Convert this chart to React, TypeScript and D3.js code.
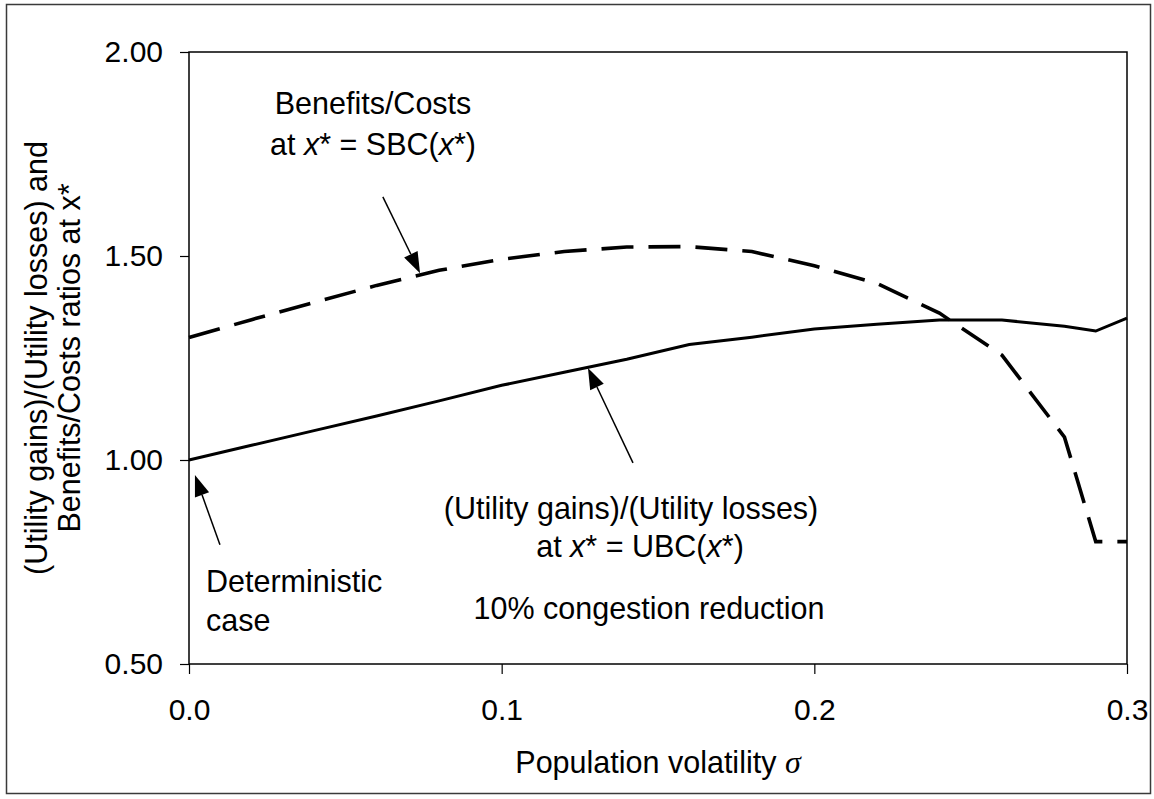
import { useRef, useEffect } from 'react';
import * as d3 from 'd3';

// population volatility sigma
const sigma = [0, 0.02, 0.04, 0.06, 0.08, 0.1, 0.12, 0.14, 0.16, 0.18, 0.2, 0.22, 0.24, 0.26, 0.28, 0.29, 0.3];
// (Utility gains)/(Utility losses) at x* = UBC(x*)
const utilityRatio = [1.0, 1.036, 1.072, 1.108, 1.145, 1.183, 1.215, 1.247, 1.283, 1.301, 1.321, 1.333, 1.343, 1.343, 1.328, 1.316, 1.348];
// Benefits/Costs at x* = SBC(x*)
const benefitCost = [1.3, 1.344, 1.386, 1.428, 1.465, 1.492, 1.511, 1.522, 1.523, 1.511, 1.476, 1.433, 1.36, 1.257, 1.056, 0.8, 0.8];

const xTicks = [0, 0.1, 0.2, 0.3];
const yTicks = [0.5, 1.0, 1.5, 2.0];

// annotation arrows, [tail, tip] in data units
const arrows = [
  [[0.062, 1.645], [0.0739, 1.458]],
  [[0.142, 0.993], [0.1276, 1.2255]],
  [[0.0099, 0.792], [0.0019, 0.963]],
];

const FONT = '"Liberation Sans", Arial, sans-serif';

function App() {
  const svgRef = useRef<SVGSVGElement>(null);

  useEffect(() => {
    const width = 1154;
    const height = 799;
    const m = { left: 189, right: 1127, top: 52, bottom: 664 };

    const svg = d3.select(svgRef.current).attr('width', width).attr('height', height);
    svg.selectAll('*').remove();

    const x = d3.scaleLinear().domain([0, 0.3]).range([m.left, m.right]);
    const y = d3.scaleLinear().domain([0.5, 2.0]).range([m.bottom, m.top]);

    //Outer frame
    svg.append('rect')
      .attr('x', 6.5).attr('y', 4.5)
      .attr('width', 1144).attr('height', 789)
      .attr('fill', 'white')
      .attr('stroke', '#3a3a3a')
      .attr('stroke-width', 1.5);

    //Plot area box
    svg.append('rect')
      .attr('x', m.left).attr('y', m.top)
      .attr('width', m.right - m.left).attr('height', m.bottom - m.top)
      .attr('fill', 'none')
      .attr('stroke', '#000')
      .attr('stroke-width', 1.5);

    //Axes
    const yAxis = svg.append('g')
      .attr('transform', `translate(${m.left},0)`)
      .call(d3.axisLeft(y).tickValues(yTicks).tickFormat(d3.format('.2f')).tickSize(9).tickPadding(17).tickSizeOuter(0));
    const xAxis = svg.append('g')
      .attr('transform', `translate(0,${m.bottom})`)
      .call(d3.axisBottom(x).tickValues(xTicks).tickFormat(d3.format('.1f')).tickSize(10).tickPadding(25).tickSizeOuter(0));
    [yAxis, xAxis].forEach(g => {
      g.select('.domain').remove();
      g.selectAll('.tick line').attr('stroke', '#000').attr('stroke-width', 1.2);
      g.selectAll('.tick text')
        .attr('fill', '#000')
        .attr('font-size', 30)
        .attr('font-family', FONT);
    });

    //Lines
    const pts = (vals: number[]) => sigma.map((s, i) => [s, vals[i]] as [number, number]);
    const line = d3.line<[number, number]>().x(d => x(d[0])).y(d => y(d[1]));

    svg.append('path')
      .attr('d', line(pts(benefitCost)))
      .attr('fill', 'none')
      .attr('stroke', '#000')
      .attr('stroke-width', 3.6)
      .attr('stroke-dasharray', '32,15');

    svg.append('path')
      .attr('d', line(pts(utilityRatio)))
      .attr('fill', 'none')
      .attr('stroke', '#000')
      .attr('stroke-width', 3);

    //Arrows
    arrows.forEach(([tail, tip]) => {
      const x0 = x(tail[0]), y0 = y(tail[1]);
      const x1 = x(tip[0]), y1 = y(tip[1]);
      const len = Math.hypot(x1 - x0, y1 - y0);
      const ux = (x1 - x0) / len, uy = (y1 - y0) / len;
      const L = 21, W = 7.5;
      const bx = x1 - ux * L, by = y1 - uy * L;
      svg.append('line')
        .attr('x1', x0).attr('y1', y0).attr('x2', bx).attr('y2', by)
        .attr('stroke', '#000').attr('stroke-width', 1.5);
      svg.append('path')
        .attr('d', `M${x1},${y1}L${bx - uy * W},${by + ux * W}L${bx + uy * W},${by - ux * W}Z`)
        .attr('fill', '#000');
    });

    //Annotation text
    const txt = (tx: number, ty: number, anchor: string) => svg.append('text')
      .attr('x', tx).attr('y', ty)
      .attr('text-anchor', anchor)
      .attr('font-size', 30.5)
      .attr('font-family', FONT)
      .attr('fill', '#000');

    const withX = (t: d3.Selection<SVGTextElement, unknown, null, undefined>, pre: string, mid: string) => {
      t.append('tspan').text(pre);
      t.append('tspan').attr('font-style', 'italic').text('x');
      t.append('tspan').text(`* = ${mid}(`);
      t.append('tspan').attr('font-style', 'italic').text('x');
      t.append('tspan').text('*)');
    };

    txt(373, 114, 'middle').text('Benefits/Costs');
    withX(txt(373, 155, 'middle'), 'at ', 'SBC');

    txt(631, 519, 'middle').text('(Utility gains)/(Utility losses)');
    withX(txt(640, 557, 'middle'), 'at ', 'UBC');

    txt(649, 619, 'middle').text('10% congestion reduction');

    txt(206, 592, 'start').text('Deterministic');
    txt(206, 631, 'start').text('case');

    //Axis titles
    const xt = txt((m.left + m.right) / 2, 773, 'middle');
    xt.append('tspan').text('Population volatility ');
    xt.append('tspan')
      .attr('font-family', '"Liberation Serif", "Times New Roman", serif')
      .attr('font-style', 'italic')
      .attr('font-size', 32)
      .text('σ');

    const yc = (m.top + m.bottom) / 2;
    svg.append('text')
      .attr('transform', `translate(47,${yc}) rotate(-90)`)
      .attr('text-anchor', 'middle')
      .attr('font-size', 30.5)
      .attr('font-family', FONT)
      .text('(Utility gains)/(Utility losses) and');
    svg.append('text')
      .attr('transform', `translate(80,${yc}) rotate(-90)`)
      .attr('text-anchor', 'middle')
      .attr('font-size', 30.5)
      .attr('font-family', FONT)
      .text('Benefits/Costs ratios at x*');
  }, []);

  return (
    <svg ref={svgRef} style={{ position: 'absolute', left: 0, top: 0, display: 'block' }} />
  );
}

export default App;
